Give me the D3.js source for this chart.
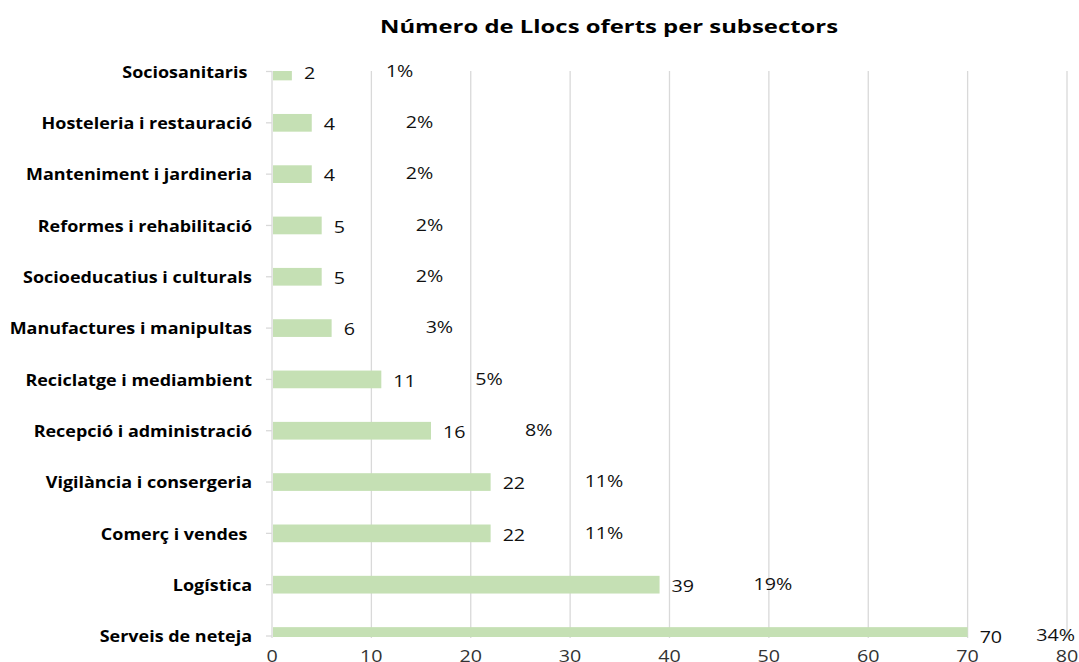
<!DOCTYPE html>
<html>
<head>
<meta charset="utf-8">
<script src="https://cdn.jsdelivr.net/npm/d3@7"></script>
<style>
  html, body { margin: 0; padding: 0; background: #fff; }
  svg { display: block; }
  text { font-family: "Open Sans", "Noto Sans", sans-serif; fill: #111; }
</style>
</head>
<body>
<svg id="chart" width="1079" height="662"></svg>
<script>
// Subsectors, from top to bottom as listed on the chart
const categories = [
  "Sociosanitaris ",
  "Hosteleria i restauració",
  "Manteniment i jardineria",
  "Reformes i rehabilitació",
  "Socioeducatius i culturals",
  "Manufactures i manipultas",
  "Reciclatge i mediambient",
  "Recepció i administració",
  "Vigilància i consergeria",
  "Comerç i vendes ",
  "Logística",
  "Serveis de neteja"
];
// Number of places offered per subsector
const places = [2, 4, 4, 5, 5, 6, 11, 16, 22, 22, 39, 70];
// Share of the total places, as labelled
const shares = ["1%", "2%", "2%", "2%", "2%", "3%", "5%", "8%", "11%", "11%", "19%", "34%"];
// Horizontal axis ticks
const xTicks = [0, 10, 20, 30, 40, 50, 60, 70, 80];
const title = "Número de Llocs oferts per subsectors";

const W = 1079, H = 662;
const plot = { left: 272, right: 1067, top: 71, bottom: 637 };
const WIDE = 1.2; // horizontal stretch of the text glyphs

const svg = d3.select("#chart");

const x = d3.scaleLinear().domain([0, 80]).range([plot.left, plot.right]);
// Category centres sit on the plot edges for the first and last rows
const y = d3.scalePoint().domain(categories).range([71.5, 636]).padding(0);
const barH = y.step() * 0.345;

// Place a text at (px, py), widened horizontally around its anchor
function placeWide(sel, px, py, sx) {
  sel.attr("x", 0).attr("y", 0)
     .attr("transform", (d, i) => `translate(${px(d, i)},${py(d, i)}) scale(${sx},1)`);
}

// Title
svg.append("text")
  .attr("x", 609).attr("y", 33)
  .attr("text-anchor", "middle")
  .attr("textLength", 458)
  .attr("lengthAdjust", "spacingAndGlyphs")
  .style("font-weight", "bold")
  .style("font-size", "18.6px")
  .style("fill", "#000")
  .text(title);

// Clip for the plotting area
svg.append("defs").append("clipPath").attr("id", "plotClip")
  .append("rect")
  .attr("x", plot.left).attr("y", plot.top)
  .attr("width", W - plot.left).attr("height", plot.bottom - plot.top);

// Vertical gridlines
svg.append("g")
  .selectAll("line")
  .data(xTicks)
  .join("line")
  .attr("x1", d => x(d)).attr("x2", d => x(d))
  .attr("y1", plot.top).attr("y2", plot.bottom + 1)
  .attr("stroke", "#d9d9d9")
  .attr("stroke-width", 1.3);

// Category tick marks on the left axis
svg.append("g")
  .selectAll("line")
  .data(categories)
  .join("line")
  .attr("x1", plot.left - 6).attr("x2", plot.left)
  .attr("y1", d => y(d)).attr("y2", d => y(d))
  .attr("stroke", "#d9d9d9")
  .attr("stroke-width", 1.3);

// Bars
svg.append("g")
  .attr("clip-path", "url(#plotClip)")
  .selectAll("rect")
  .data(places)
  .join("rect")
  .attr("x", x(0) + 1)
  .attr("y", (d, i) => y(categories[i]) - barH / 2)
  .attr("width", d => x(d) - x(0) - 1)
  .attr("height", barH)
  .attr("fill", "#c5e0b4");

// Category labels
svg.append("g")
  .selectAll("text")
  .data(categories)
  .join("text")
  .attr("text-anchor", "end")
  .attr("dominant-baseline", "central")
  .attr("xml:space", "preserve")
  .style("white-space", "pre")
  .style("font-weight", "bold")
  .style("font-size", "16.4px")
  .style("fill", "#000")
  .text(d => d)
  .call(placeWide, () => plot.left - 20, d => y(d), 1.095);

// Value labels
svg.append("g")
  .selectAll("text")
  .data(places)
  .join("text")
  .attr("dominant-baseline", "central")
  .style("font-size", "16.4px")
  .text(d => d)
  .call(placeWide, d => x(d) + 12, (d, i) => y(categories[i]) + 1, WIDE);

// Share labels, set to the right of each bar and kept inside the chart
const shareText = svg.append("g")
  .selectAll("text")
  .data(shares)
  .join("text")
  .attr("dominant-baseline", "central")
  .style("font-size", "16.4px")
  .text(d => d);
shareText.each(function(d, i) {
  const w = this.getComputedTextLength() * WIDE;
  const px = Math.min(x(places[i]) + 94, W - 4 - w);
  d3.select(this).call(placeWide, () => px, () => y(categories[i]) - 1, WIDE);
});

// Bottom axis tick labels
svg.append("g")
  .selectAll("text")
  .data(xTicks)
  .join("text")
  .attr("text-anchor", "middle")
  .style("font-size", "16.4px")
  .style("fill", "#333")
  .text(d => d)
  .call(placeWide, d => x(d), () => 661.5, WIDE);
</script>
</body>
</html>
